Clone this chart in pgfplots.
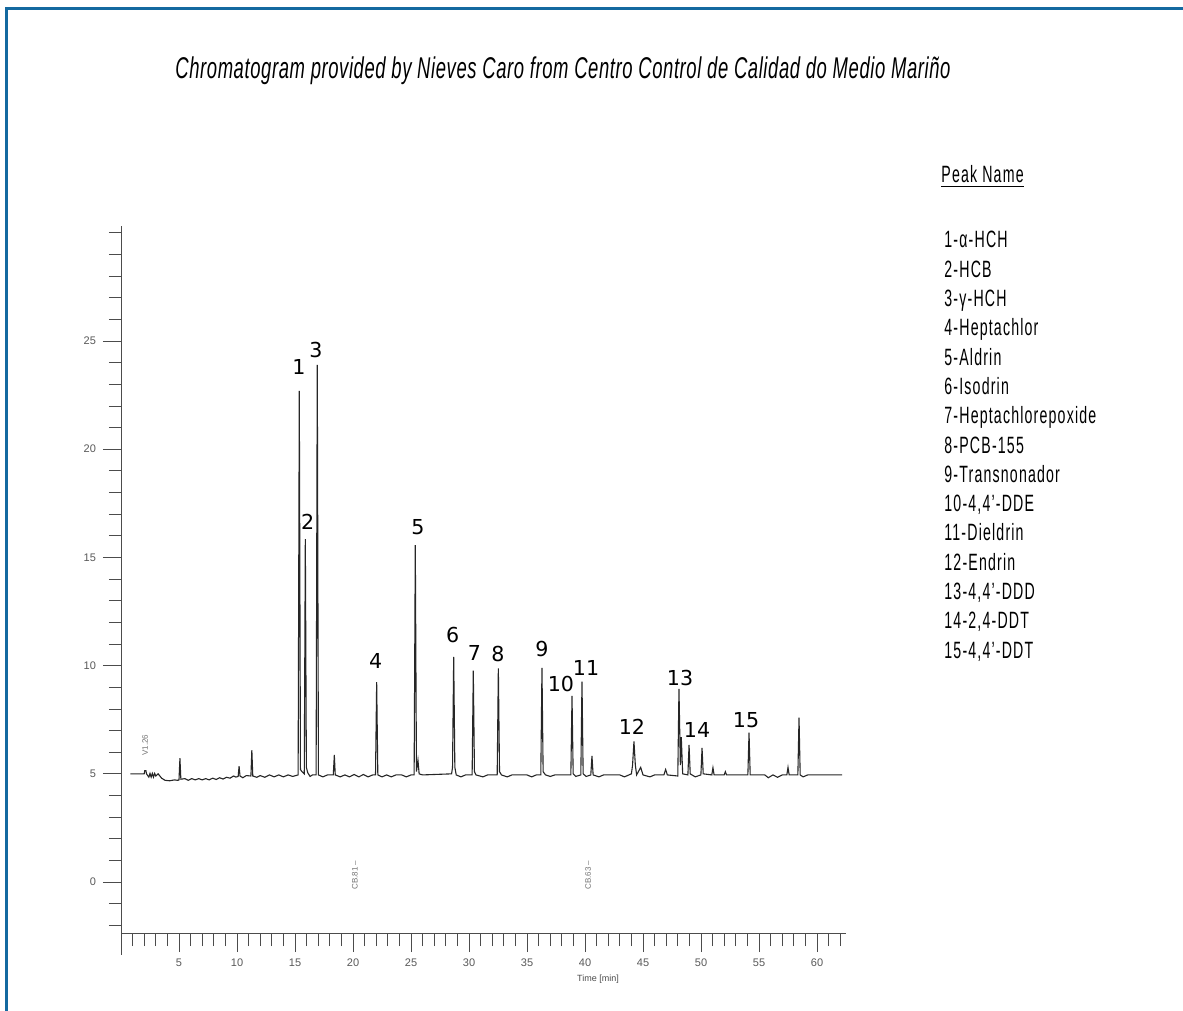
\documentclass[border=0pt]{standalone}
\usepackage{fontspec}
\usepackage{pgfplots}
\pgfplotsset{compat=1.18}
\setmainfont{Liberation Sans}
\newfontfamily\legfont[FakeStretch=0.6, LetterSpace=5]{Liberation Sans}
\newfontfamily\titfont[FakeStretch=0.615, LetterSpace=2]{Liberation Sans}
\newfontfamily\numfont{DejaVu Sans}
\definecolor{frameblue}{RGB}{20,105,160}
\newcommand\tickfont{\fontsize{5.5}{6}\selectfont}
\newcommand\peakfont{\numfont\fontsize{10.3}{11}\selectfont}

\begin{document}
\begin{tikzpicture}[x=0.5pt,y=0.5pt]
\path[use as bounding box, fill=white] (0,0) rectangle (1183,1011);
\draw[frameblue, line width=1.5pt] (6,0) -- (6,1002) -- (1183,1002);

\node[anchor=base west, inner sep=0pt, font=\titfont\itshape\fontsize{15}{17}\selectfont] at (175,932)
  {Chromatogram provided by Nieves Caro from Centro Control de Calidad do Medio Mariño};

\node[anchor=base west, inner sep=0pt, font=\legfont\fontsize{11.8}{13}\selectfont] at (941,828) {\underline{Peak Name}};
\foreach \i/\txt in {1/{1-α-HCH},2/{2-HCB},3/{3-γ-HCH},4/{4-Heptachlor},5/{5-Aldrin},
  6/{6-Isodrin},7/{7-Heptachlorepoxide},8/{8-PCB-155},9/{9-Transnonador},
  10/{10-4,4’-DDE},11/{11-Dieldrin},12/{12-Endrin},13/{13-4,4’-DDD},
  14/{14-2,4-DDT},15/{15-4,4’-DDT}}
  \node[anchor=base west, inner sep=0pt, font=\legfont\fontsize{11.8}{13}\selectfont] at (944,{763-(\i-1)*29.3}) {\txt};

\begin{axis}[
  at={(60.5pt,38.5pt)}, anchor=south west,
  scale only axis, width=362.5pt, height=353.85pt,
  xmin=0, xmax=62.5, ymin=-2.4, ymax=30.3,
  axis lines=left,
  axis line style={-, black!70, line width=0.5pt},
  y axis line style={shorten <=-10.5pt},
  xtick={5,10,...,60}, minor xtick={1,...,62},
  ytick={0,5,...,25}, minor ytick={-2,...,30},
  tick align=outside, major tick length=9pt, minor tick length=6pt,
  tick style={black!70, line width=0.4pt},
  ticklabel style={font=\tickfont, text=black!65},
  /pgf/number format/assume math mode=true,
  clip=false,
]
\addplot[black!85, line width=0.55pt] coordinates {
  (0.8,5.0) (2.0,5.0) (2.05,5.15) (2.15,5.15) (2.2,5.0) (2.4,4.85) (2.5,5.02) (2.6,4.85)
  (2.7,5.02) (2.8,4.85) (2.9,5.02) (3.0,4.9) (3.2,5.0) (3.5,4.8) (3.8,4.7) (4.2,4.68)
  (4.6,4.72) (4.9,4.7) (5.0,4.72) (5.08,5.72) (5.16,4.75) (5.5,4.78) (5.8,4.7) (6.1,4.78)
  (6.4,4.72) (6.7,4.78) (7.0,4.72) (7.3,4.78) (7.6,4.72) (7.9,4.8) (8.2,4.74) (8.5,4.82)
  (8.8,4.76) (9.1,4.84) (9.4,4.8) (9.7,4.9) (9.9,4.85) (10.1,4.88) (10.18,5.35) (10.26,4.9)
  (10.5,4.82) (10.8,4.92) (11.2,4.9) (11.28,6.1) (11.36,4.9) (11.7,4.84) (12.0,4.92)
  (12.4,4.84) (12.8,4.95) (13.2,4.86) (13.6,4.95) (14.0,4.86) (14.4,4.95) (14.8,4.88)
  (15.27,4.95) (15.37,22.7) (15.47,5.2) (15.6,5.1) (15.8,5.0) (15.89,15.85) (15.98,5.3)
  (16.1,5.05) (16.3,4.88) (16.5,4.95) (16.82,4.95) (16.92,23.9) (17.02,4.95) (17.4,4.86)
  (17.8,4.95) (18.3,4.95) (18.39,5.87) (18.47,4.95) (18.9,4.86) (19.3,4.95) (19.7,4.86)
  (20.1,4.97) (20.5,4.86) (20.9,4.97) (21.3,4.86) (21.7,4.95) (21.94,4.95) (22.04,9.24)
  (22.14,4.95) (22.5,4.86) (22.9,4.95) (23.3,4.86) (23.7,4.95) (24.2,4.95) (24.6,4.86)
  (25.0,4.95) (25.27,4.95) (25.37,15.57) (25.47,5.1) (25.6,5.64) (25.7,5.0) (26.0,4.95)
  (28.5,5.0) (28.58,5.3) (28.68,10.41) (28.78,5.3) (28.9,4.95) (29.3,4.86) (29.7,4.95)
  (30.27,4.95) (30.37,9.77) (30.47,5.1) (30.6,4.95) (31.2,4.86) (31.6,4.95) (32.43,4.95)
  (32.53,9.87) (32.63,5.1) (32.8,4.95) (33.3,4.86) (33.7,4.95) (35.0,4.95) (35.4,4.86)
  (35.8,4.95) (36.19,4.95) (36.29,9.9) (36.39,5.1) (36.6,4.95) (37.0,4.88) (37.4,4.95)
  (38.78,4.95) (38.88,8.6) (38.98,5.0) (39.2,4.88) (39.64,4.95) (39.74,9.26) (39.84,5.0)
  (40.1,4.88) (40.5,4.95) (40.6,5.83) (40.7,4.95) (41.2,4.86) (41.6,4.95) (43.0,4.95)
  (43.4,4.86) (44.0,5.0) (44.1,5.4) (44.22,6.5) (44.34,5.4) (44.45,4.95) (44.8,5.3)
  (45.0,4.95) (45.6,4.86) (46.0,4.95) (46.8,4.95) (46.95,5.2) (47.1,4.95) (48.0,4.9)
  (48.1,8.93) (48.22,5.4) (48.3,6.7) (48.42,5.0) (48.87,4.95) (48.97,6.34) (49.07,5.0)
  (49.5,4.86) (49.99,4.95) (50.09,6.2) (50.19,5.0) (50.93,4.95) (51.03,5.28) (51.13,4.95)
  (52.0,4.95) (52.1,5.1) (52.2,4.95) (54.04,4.95) (54.14,6.9) (54.24,4.95) (55.5,4.95)
  (55.8,4.82) (56.2,4.95) (56.6,4.84) (57.0,4.95) (57.4,4.95) (57.5,5.3) (57.6,4.95)
  (58.35,4.95) (58.45,7.6) (58.55,4.95) (58.8,4.86) (59.2,4.95) (62.16,4.95)
};
\node[font=\peakfont] at (axis cs:15.34,23.80) {1};
\node[font=\peakfont] at (axis cs:16.09,16.65) {2};
\node[font=\peakfont] at (axis cs:16.81,24.58) {3};
\node[font=\peakfont] at (axis cs:21.96,10.23) {4};
\node[font=\peakfont] at (axis cs:25.60,16.40) {5};
\node[font=\peakfont] at (axis cs:28.59,11.41) {6};
\node[font=\peakfont] at (axis cs:30.46,10.58) {7};
\node[font=\peakfont] at (axis cs:32.50,10.54) {8};
\node[font=\peakfont] at (axis cs:36.29,10.77) {9};
\node[font=\peakfont] at (axis cs:37.93,9.15) {10};
\node[font=\peakfont] at (axis cs:40.09,9.89) {11};
\node[font=\peakfont] at (axis cs:44.05,7.16) {12};
\node[font=\peakfont] at (axis cs:48.19,9.43) {13};
\node[font=\peakfont] at (axis cs:49.66,7.02) {14};
\node[font=\peakfont] at (axis cs:53.88,7.49) {15};
\node[font=\fontsize{4}{4}\selectfont, text=black!55, rotate=90] at (axis cs:2.07,6.33) {V1.26};
\node[font=\fontsize{4}{4}\selectfont, text=black!55, rotate=90] at (axis cs:20.17,0.32) {CB.81 --};
\node[font=\fontsize{4}{4}\selectfont, text=black!55, rotate=90] at (axis cs:40.26,0.32) {CB.63 --};
\node[font=\fontsize{4.5}{5}\selectfont, text=black!70] at (axis cs:41.12,-4.48) {Time [min]};
\end{axis}
\end{tikzpicture}
\end{document}
